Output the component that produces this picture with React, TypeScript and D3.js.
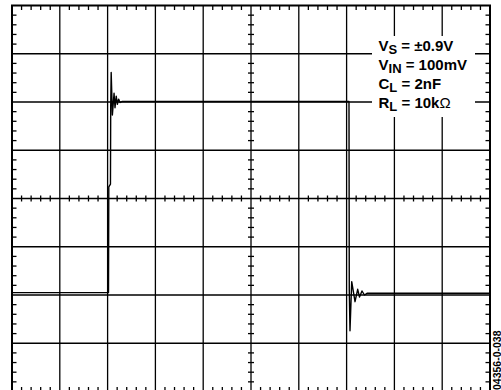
import React from "react";
import * as d3 from "d3";

// Oscilloscope trace, in divisions (x: 0..10 time div, y: -4..4 vertical div)
const traceTime = [
  0, 2.019, 2.025, 2.06, 2.065, 2.075, 2.1, 2.135, 2.155, 2.18, 2.205, 2.23, 2.26, 2.3,
  7.05, 7.056, 7.071, 7.107, 7.176, 7.232, 7.27, 7.322, 7.374, 7.427, 10,
];
const traceLevel = [
  -1.95, -1.95, 0.24, 0.3, 1.9, 2.61, 1.73, 2.18, 1.88, 2.12, 1.95, 2.06, 1.99, 2.01,
  2.01, -1.896, -2.74, -1.724, -2.139, -1.882, -2.041, -1.917, -2.0, -1.965, -1.965,
];

const labelMain = ["V", "V", "C", "R"];
const labelSub = ["S", "IN", "L", "L"];
const labelValue = [" = ±0.9V", " = 100mV", " = 2nF", " = 10k"];
const labelSuffix = ["", "", "", "Ω"];
const figureId = "04356-0-038";

const xDivs = 10;
const yDivs = 8;

export default function App() {
  const W = 501;
  const H = 390;
  const x = d3.scaleLinear().domain([0, xDivs]).range([12, 490]);
  const y = d3.scaleLinear().domain([-yDivs / 2, yDivs / 2]).range([391.5, 5.5]);

  const line = d3
    .line<number>()
    .x((_, i) => x(traceTime[i]))
    .y((d) => y(d));

  const vGrid = d3.range(1, xDivs);
  const hGrid = d3.range(1, yDivs);
  const minorX = d3.range(0, xDivs * 5 + 1).map((i) => i / 5).filter((v) => Math.abs(v - Math.round(v)) > 1e-6);
  const minorY = d3.range(0, yDivs * 5 + 1).map((i) => i / 5 - yDivs / 2).filter((v) => Math.abs(v - Math.round(v)) > 1e-6);

  const stroke = "#000";
  const font = "'Liberation Sans', Arial, Helvetica, sans-serif";
  const ticks: React.ReactNode[] = [];
  const tl = 4.5;
  const ct = 3;
  minorX.forEach((v, i) => {
    const px = x(v);
    ticks.push(<line key={"tt" + i} x1={px} x2={px} y1={y(4)} y2={y(4) + tl} stroke={stroke} strokeWidth={1.3} />);
    ticks.push(<line key={"tb" + i} x1={px} x2={px} y1={y(-4)} y2={y(-4) - tl} stroke={stroke} strokeWidth={1.3} />);
    ticks.push(<line key={"tc" + i} x1={px} x2={px} y1={y(0) - ct} y2={y(0) + ct} stroke={stroke} strokeWidth={1.3} />);
  });
  minorY.forEach((v, i) => {
    const py = y(v);
    ticks.push(<line key={"tl" + i} x1={x(0)} x2={x(0) + tl} y1={py} y2={py} stroke={stroke} strokeWidth={1.3} />);
    ticks.push(<line key={"tr" + i} x1={x(10)} x2={x(10) - tl} y1={py} y2={py} stroke={stroke} strokeWidth={1.3} />);
    ticks.push(<line key={"tcy" + i} x1={x(5) - ct} x2={x(5) + ct} y1={py} y2={py} stroke={stroke} strokeWidth={1.3} />);
  });

  return (
    <svg width={W} height={H} style={{ position: "absolute", left: 0, top: 0, background: "#fff" }}>
      <rect x={0} y={0} width={W} height={H} fill="#fff" />
      {vGrid.map((v) => (
        <line key={"vg" + v} x1={x(v)} x2={x(v)} y1={y(4)} y2={y(-4)} stroke={stroke} strokeWidth={1.3} />
      ))}
      {hGrid.map((v) => (
        <line key={"hg" + v} x1={x(0)} x2={x(10)} y1={y(v - 4)} y2={y(v - 4)} stroke={stroke} strokeWidth={1.3} />
      ))}
      {ticks}
      <rect x={x(0)} y={y(4)} width={x(10) - x(0)} height={y(-4) - y(4)} fill="none" stroke={stroke} strokeWidth={2} />
      <path d={line(traceLevel) ?? ""} fill="none" stroke={stroke} strokeWidth={1.4} strokeLinejoin="round" />
      <rect x={372} y={36} width={103} height={81} fill="#fff" />
      <g fontFamily={font} fontWeight="bold" fontSize={15} fill="#000">
        {labelMain.map((m, i) => (
          <text key={"lab" + i} x={378.5} y={50.7 + i * 19}>
            {m}
            <tspan fontSize={13} dy={3}>{labelSub[i]}</tspan>
            <tspan dy={-3}>{labelValue[i]}</tspan>
            {labelSuffix[i] ? <tspan fontWeight="normal">{labelSuffix[i]}</tspan> : null}
          </text>
        ))}
      </g>
      <text
        transform={`translate(500.5,390) rotate(-90)`}
        fontFamily={font}
        fontSize={10.5}
        fontWeight="bold"
        fill="#000"
      >
        {figureId}
      </text>
    </svg>
  );
}
